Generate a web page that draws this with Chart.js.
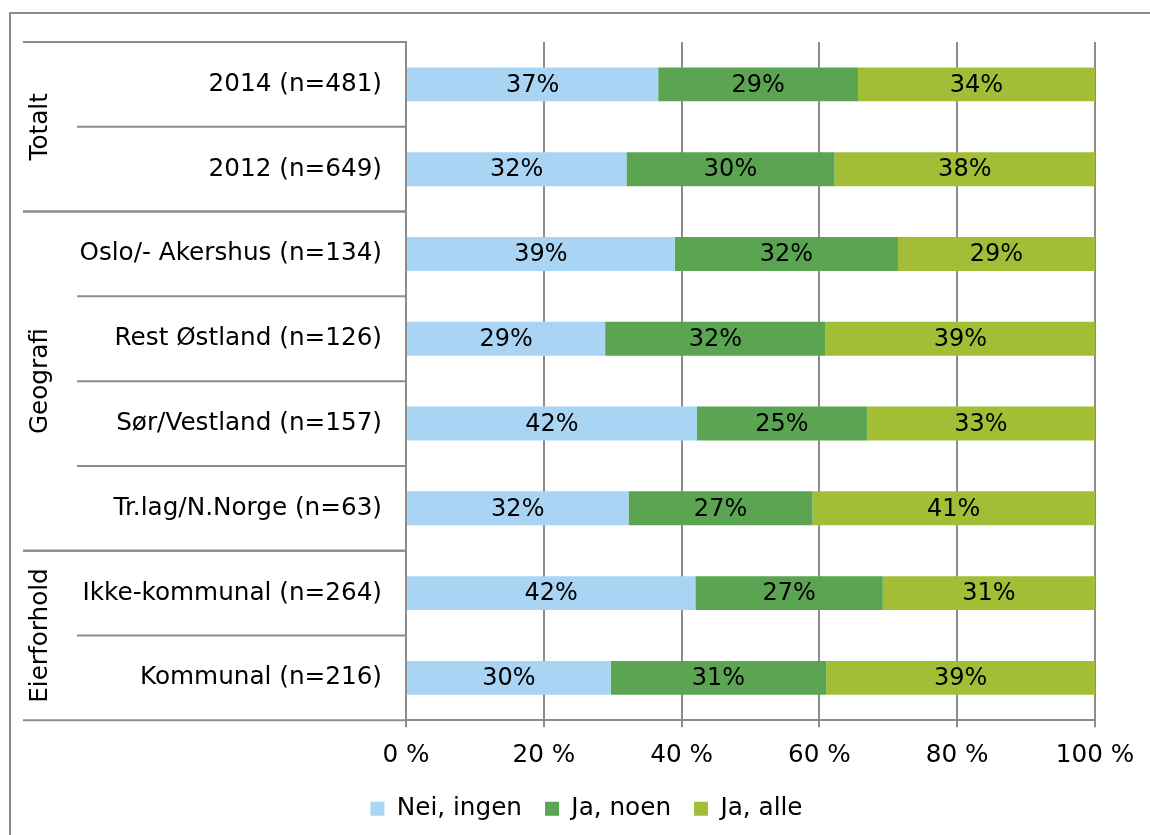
<!DOCTYPE html>
<html>
<head>
<meta charset="utf-8">
<script src="https://cdn.jsdelivr.net/npm/chart.js@4/dist/chart.umd.min.js"></script>
<style>
  html, body { margin: 0; padding: 0; background: #fff; }
  canvas { display: block; }
</style>
</head>
<body>
<canvas id="myChart" width="1150" height="835"></canvas>
<script>
// categories, top to bottom
const categories = ['2014 (n=481)', '2012 (n=649)', 'Oslo/- Akershus (n=134)', 'Rest Østland (n=126)',
  'Sør/Vestland (n=157)', 'Tr.lag/N.Norge (n=63)', 'Ikke-kommunal (n=264)', 'Kommunal (n=216)'];
// groups on the left and how many categories each one spans
const groups = ['Totalt', 'Geografi', 'Eierforhold'];
const groupSizes = [2, 4, 2];

// series (percent)
const seriesNames = ['Nei, ingen', 'Ja, noen', 'Ja, alle'];
const neiIngen = [36.6, 32.0, 39.0, 28.9, 42.2, 32.3, 42.0, 29.7];
const jaNoen   = [29.0, 30.2, 32.4, 32.0, 24.7, 26.7, 27.2, 31.3];
const jaAlle   = [34.4, 37.8, 28.6, 39.1, 33.1, 41.0, 30.8, 39.0];

// x axis ticks
const xTicks = [0, 20, 40, 60, 80, 100];

const colors = ['#A9D4F3', '#5BA552', '#A2BE37'];
const gray = '#8c8c8c';
const fontFamily = "'DejaVu Sans', Verdana, sans-serif";

Chart.defaults.font.family = fontFamily;
Chart.defaults.font.size = 24.7;
Chart.defaults.color = '#000';

// writes the rounded value in the middle of every bar piece
const barLabels = {
  id: 'barLabels',
  afterDatasetsDraw(chart) {
    const c = chart.ctx;
    c.save();
    c.font = '24px ' + fontFamily;
    c.fillStyle = '#000';
    c.textAlign = 'center';
    c.textBaseline = 'middle';
    chart.data.datasets.forEach((ds, i) => {
      chart.getDatasetMeta(i).data.forEach((bar, j) => {
        c.fillText(Math.round(ds.data[j]) + '%', (bar.x + bar.base) / 2, bar.y + 1);
      });
    });
    c.restore();
  }
};

// frame, separator lines and rotated group names on the left
const groupAxis = {
  id: 'groupAxis',
  afterDraw(chart) {
    const c = chart.ctx;
    const y = chart.scales.y;
    const left = chart.chartArea.left;
    const step = y.getPixelForValue(1) - y.getPixelForValue(0);
    const edge = i => y.getPixelForValue(0) - step / 2 + i * step;
    c.save();
    c.strokeStyle = gray;
    c.lineWidth = 2;
    // outer frame
    c.beginPath();
    c.moveTo(10, 835); c.lineTo(10, 13); c.lineTo(1150, 13);
    c.stroke();
    let start = 0;
    groups.forEach((g, k) => {
      const end = start + groupSizes[k];
      // group boundaries
      [start, end].forEach(i => {
        c.beginPath();
        c.moveTo(left - 383, edge(i)); c.lineTo(left, edge(i));
        c.stroke();
      });
      // category boundaries inside the group
      for (let i = start + 1; i < end; i++) {
        c.beginPath();
        c.moveTo(left - 329, edge(i)); c.lineTo(left, edge(i));
        c.stroke();
      }
      c.save();
      c.translate(left - 365, (edge(start) + edge(end)) / 2);
      c.rotate(-Math.PI / 2);
      c.fillStyle = '#000';
      c.font = '24.7px ' + fontFamily;
      c.textAlign = 'center';
      c.textBaseline = 'middle';
      c.fillText(g, 0, 0);
      c.restore();
      start = end;
    });
    c.restore();
  }
};

let ctx = document.getElementById('myChart');
let myChart = new Chart(ctx, {
  type: 'bar',
  data: {
    labels: categories,
    datasets: [neiIngen, jaNoen, jaAlle].map((d, i) => ({
      label: seriesNames[i],
      data: d,
      backgroundColor: colors[i],
      borderWidth: 0,
      barPercentage: 0.4,
      categoryPercentage: 1
    }))
  },
  options: {
    indexAxis: 'y',
    responsive: false,
    animation: false,
    layout: { padding: { top: 42, right: 55, left: 78, bottom: 4 } },
    scales: {
      x: {
        stacked: true,
        min: 0,
        max: 100,
        afterBuildTicks: s => { s.ticks = xTicks.map(v => ({ value: v })); },
        ticks: { callback: v => v + ' %', padding: 13, maxRotation: 0 },
        grid: { color: gray, lineWidth: 2, tickLength: 7 },
        border: { color: gray, width: 2 },
        afterFit: s => { s.height = 53; }
      },
      y: {
        stacked: true,
        ticks: { padding: 24 },
        grid: { display: false, drawTicks: false },
        border: { color: gray, width: 2 },
        afterFit: s => { s.width = 328; }
      }
    },
    plugins: {
      legend: {
        position: 'bottom',
        labels: { boxWidth: 14, boxHeight: 14, padding: 23 }
      },
      tooltip: { enabled: false }
    }
  },
  plugins: [barLabels, groupAxis]
});
</script>
</body>
</html>
